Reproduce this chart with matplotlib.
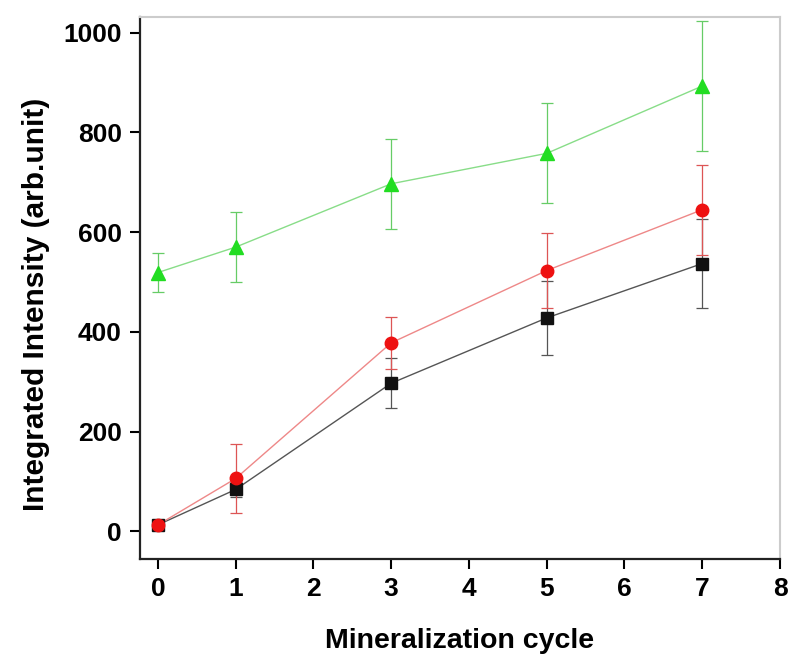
import matplotlib
matplotlib.use("Agg")
import matplotlib.pyplot as plt

plt.rcParams['font.family'] = ['Liberation Sans', 'DejaVu Sans']

cycles = [0, 1, 3, 5, 7]
black_vals = [13, 84, 297, 428, 537]
black_err = [8, 15, 50, 75, 90]
red_vals = [13, 106, 378, 523, 645]
red_err = [5, 70, 52, 75, 90]
green_vals = [519, 570, 697, 758, 893]
green_err = [40, 70, 90, 100, 130]

xticks = [0, 1, 2, 3, 4, 5, 6, 7, 8]
yticks = [0, 200, 400, 600, 800, 1000]

fig = plt.figure(figsize=(8, 6.69), dpi=100)
ax = fig.add_axes([0.175, 0.164, 0.80, 0.811])

series = [
    (black_vals, black_err, 's', 8, '#111111', '#555555', '#555555'),
    (red_vals, red_err, 'o', 9, '#ee1111', '#ee8888', '#dd5555'),
    (green_vals, green_err, '^', 10, '#22dd22', '#88dd88', '#66cc66'),
]
for z, (vals, err, mk, ms, mcol, lcol, ecol) in enumerate(series):
    ax.plot(cycles, vals, color=lcol, lw=1.0, zorder=2 + z)
    ax.errorbar(cycles, vals, yerr=err, fmt='none', ecolor=ecol,
                elinewidth=0.9, capsize=4, capthick=0.9, zorder=2 + z)
    ax.plot(cycles, vals, linestyle='none', marker=mk, ms=ms,
            mfc=mcol, mec=mcol, zorder=5 + z)

ax.set_xlim(-0.23, 8.0)
ax.set_ylim(-56, 1032)
ax.set_xticks(xticks)
ax.set_yticks(yticks)
ax.tick_params(direction='out', length=7, width=1.5, labelsize=19, pad=6)
for lab in ax.get_xticklabels() + ax.get_yticklabels():
    lab.set_fontweight('bold')

ax.spines['left'].set_linewidth(1.6)
ax.spines['bottom'].set_linewidth(1.6)
ax.spines['left'].set_color('#222222')
ax.spines['bottom'].set_color('#222222')
ax.spines['top'].set_color('#cccccc')
ax.spines['right'].set_color('#cccccc')
ax.spines['top'].set_linewidth(1.5)
ax.spines['right'].set_linewidth(1.5)

ax.set_xlabel('Mineralization cycle', fontsize=20.5, fontweight='bold')
ax.xaxis.set_label_coords(0.5, -0.127)
ax.set_ylabel('Integrated Intensity (arb.unit)', fontsize=21.5, fontweight='bold')
ax.yaxis.set_label_coords(-0.14, 0.47)

fig.savefig('out.png', dpi=100)
